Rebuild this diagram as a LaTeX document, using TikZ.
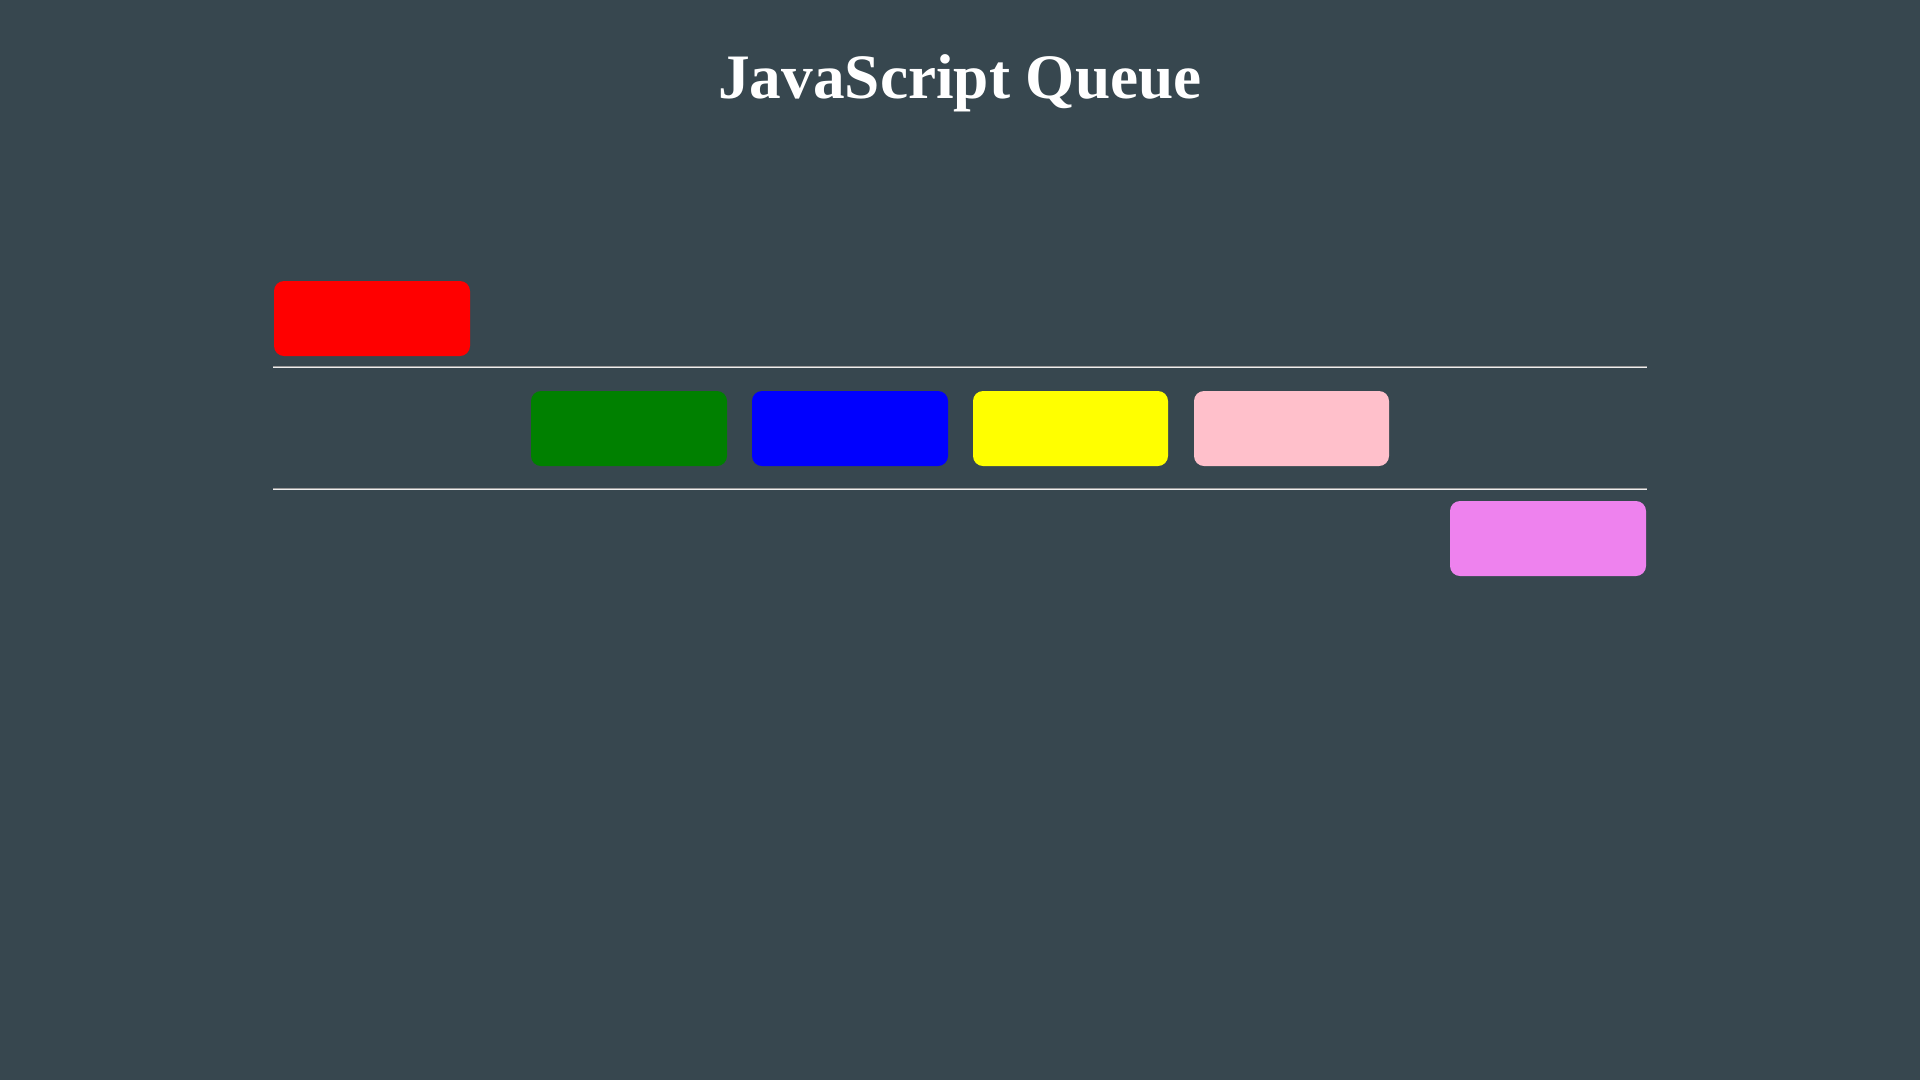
\documentclass[tikz,border=0pt]{standalone}
\usepackage{fontspec}
\setmainfont{Liberation Serif}
\definecolor{bg}{RGB}{55,71,79}
\definecolor{qpink}{RGB}{255,192,203}
\definecolor{qviolet}{RGB}{238,130,238}
\definecolor{qgreen}{RGB}{0,128,0}
\definecolor{qred}{RGB}{255,0,0}
\definecolor{qblue}{RGB}{0,0,255}
\definecolor{qyellow}{RGB}{255,255,0}
\definecolor{hrgray}{RGB}{154,154,154}
\definecolor{hrwhite}{RGB}{238,238,238}
\begin{document}
\begin{tikzpicture}[x=1pt,y=-1pt,
  item/.style={rounded corners=10pt,draw=none},
  hrtop/.style={draw=hrgray,line width=1pt},
  hrbot/.style={draw=hrwhite,line width=1pt}]
\fill[bg] (0,0) rectangle (1920,1080);
\useasboundingbox (0,0) rectangle (1920,1080);
\node[text=white,font=\fontsize{63.3}{70}\selectfont\bfseries] (title) at (960,83) {JavaScript Queue};
% dequeued
\fill[item,qred] (274,281) rectangle (470,356);
% hr lines
\coordinate (h1a) at (273,366.5); \coordinate (h1b) at (1647,366.5);
\coordinate (h1c) at (273,367.5); \coordinate (h1d) at (1647,367.5);
\coordinate (h2a) at (273,488.5); \coordinate (h2b) at (1647,488.5);
\coordinate (h2c) at (273,489.5); \coordinate (h2d) at (1647,489.5);
\draw[hrtop] (h1a) -- (h1b);
\draw[hrbot] (h1c) -- (h1d);
\draw[hrtop] (h2a) -- (h2b);
\draw[hrbot] (h2c) -- (h2d);
% queue
\fill[item,qgreen] (531,391) rectangle (727,466);
\fill[item,qblue] (752,391) rectangle (948,466);
\fill[item,qyellow] (973,391) rectangle (1168,466);
\fill[item,qpink] (1194,391) rectangle (1389,466);
% enqueued
\fill[item,qviolet] (1450,501) rectangle (1646,576);
\end{tikzpicture}
\end{document}
